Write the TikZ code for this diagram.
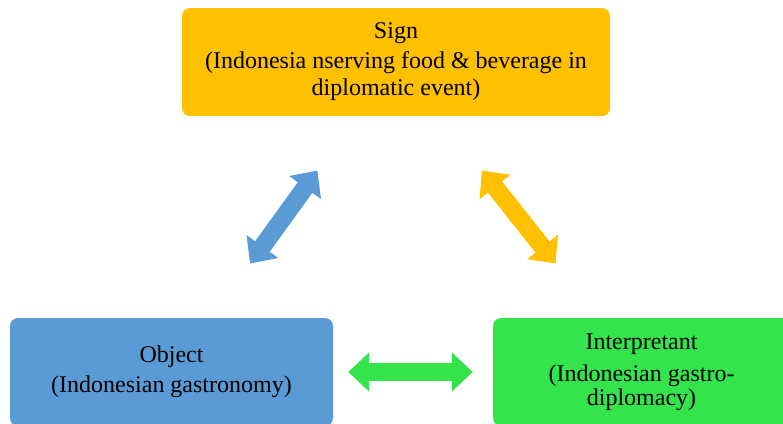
\documentclass[tikz,border=0pt]{standalone}
\usepackage{fontspec}
\setmainfont{Liberation Serif}
\definecolor{signorange}{HTML}{FFC000}
\definecolor{objblue}{HTML}{5B9BD5}
\definecolor{intgreen}{HTML}{33E44C}
\usetikzlibrary{arrows.meta,calc}

\begin{document}
\begin{tikzpicture}[x=1pt,y=-1pt,font=\fontsize{24}{27}\selectfont,
  box/.style={rounded corners=8pt,align=center,inner sep=0pt,minimum height=108pt},
  link/.style={{Triangle[width=38pt,length=21pt]}-{Triangle[width=38pt,length=21pt]},line width=18pt}]
\clip (0,0) rectangle (783,423);
\node[box,fill=signorange,minimum width=428pt] (sign) at (396,62) {Sign\\[3pt](Indonesia nserving food \& beverage in\\diplomatic event)};
\node[box,fill=objblue,minimum width=323pt] (object) at (171.5,372) {Object\\[3pt](Indonesian gastronomy)};
\node[box,fill=intgreen,minimum width=297pt] (interp) at (641.5,372) {Interpretant\\[5pt](Indonesian gastro-\\[-3pt]diplomacy)};
\draw[link,draw=objblue] ($(object)!0.35!(sign)$)--($(sign)!0.35!(object)$);
\draw[link,draw=signorange] ($(sign)!0.35!(interp)$)--($(interp)!0.35!(sign)$);
\draw[link,draw=intgreen] ($(object.east)+(15,0)$)--($(interp.west)-(20,0)$);
\end{tikzpicture}
\end{document}
